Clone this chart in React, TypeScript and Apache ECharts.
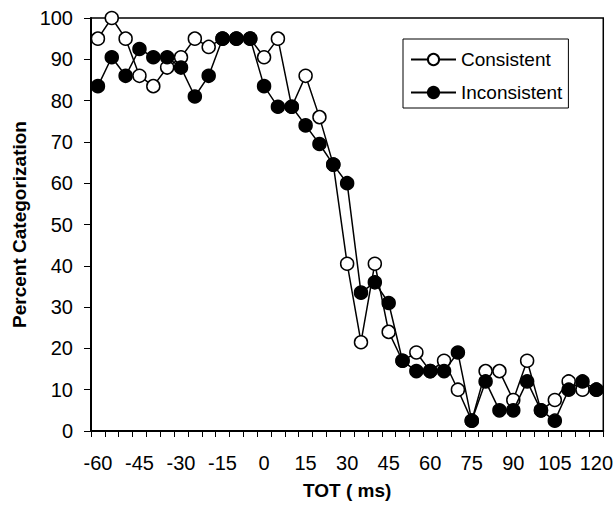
import React, { useEffect, useRef } from "react";
import * as echarts from "echarts";

const categories = [
  "-60", "-55", "-50", "-45", "-40", "-35", "-30", "-25", "-20", "-15",
  "-10", "-5", "0", "5", "10", "15", "20", "25", "30", "35",
  "40", "45", "50", "55", "60", "65", "70", "75", "80", "85",
  "90", "95", "100", "105", "110", "115", "120",
];

const consistent = [
  95, 100, 95, 86, 83.5, 88, 90.5, 95, 93, 95,
  95, 95, 90.5, 95, 78.5, 86, 76, 64.5, 40.5, 21.5,
  40.5, 24, 17, 19, 14.5, 17, 10, 2.5, 14.5, 14.5,
  7.5, 17, 5, 7.5, 12, 10, 10,
];

const inconsistent = [
  83.5, 90.5, 86, 92.5, 90.5, 90.5, 88, 81, 86, 95,
  95, 95, 83.5, 78.5, 78.5, 74, 69.5, 64.5, 60, 33.5,
  36, 31, 17, 14.5, 14.5, 14.5, 19, 2.5, 12, 5,
  5, 12, 5, 2.5, 10, 12, 10,
];

const FONT = "'Liberation Sans', Arial, sans-serif";

export default function App() {
  const ref = useRef<HTMLDivElement>(null);
  useEffect(() => {
    if (!ref.current) return;
    const chart = echarts.init(ref.current, undefined, { renderer: "svg" });
    chart.setOption({
      animation: false,
      backgroundColor: "#fff",
      textStyle: { fontFamily: FONT, color: "#000" },
      grid: {
        left: 91,
        right: 10,
        top: 18,
        bottom: 79,
        show: true,
        borderColor: "#000",
        borderWidth: 1.5,
        backgroundColor: "transparent",
      },
      legend: {
        orient: "vertical",
        left: 403,
        top: 39,
        padding: [11, 6, 6, 7],
        itemGap: 14,
        itemWidth: 45,
        itemHeight: 14,
        borderColor: "#000",
        borderWidth: 1,
        backgroundColor: "#fff",
        textStyle: { fontFamily: FONT, fontSize: 19, color: "#000" },
        data: ["Consistent", "Inconsistent"],
      },
      xAxis: {
        type: "category",
        data: categories,
        boundaryGap: true,
        name: "TOT ( ms)",
        nameLocation: "middle",
        nameGap: 50,
        nameTextStyle: { fontFamily: FONT, fontSize: 19, fontWeight: "bold", color: "#000" },
        axisLine: { show: true, lineStyle: { color: "#000", width: 2 } },
        axisTick: { show: true, interval: 0, alignWithLabel: false, length: 6, lineStyle: { color: "#000", width: 1 } },
        axisLabel: { interval: 2, margin: 22, fontFamily: FONT, fontSize: 20, color: "#000" },
        splitLine: { show: false },
      },
      yAxis: {
        type: "value",
        min: 0,
        max: 100,
        interval: 10,
        name: "Percent Categorization",
        nameLocation: "middle",
        nameGap: 60,
        nameTextStyle: { fontFamily: FONT, fontSize: 19, fontWeight: "bold", color: "#000" },
        axisLine: { show: true, lineStyle: { color: "#000", width: 2 } },
        axisTick: { show: true, length: 7, lineStyle: { color: "#000", width: 1 } },
        axisLabel: { margin: 18, fontFamily: FONT, fontSize: 20, color: "#000" },
        splitLine: { show: false },
      },
      series: [
        {
          name: "Consistent",
          type: "line",
          data: consistent,
          symbol: "circle",
          symbolSize: 13,
          showAllSymbol: true,
          lineStyle: { color: "#000", width: 1.5 },
          itemStyle: { color: "#fff", borderColor: "#000", borderWidth: 1.5 },
          z: 2,
        },
        {
          name: "Inconsistent",
          type: "line",
          data: inconsistent,
          symbol: "circle",
          symbolSize: 13,
          showAllSymbol: true,
          lineStyle: { color: "#000", width: 1.5 },
          itemStyle: { color: "#000", borderColor: "#000", borderWidth: 1.5 },
          z: 3,
        },
      ],
    });
    return () => chart.dispose();
  }, []);
  return (
    <div
      ref={ref}
      style={{ position: "fixed", left: 0, top: 0, width: 616, height: 510 }}
    />
  );
}
